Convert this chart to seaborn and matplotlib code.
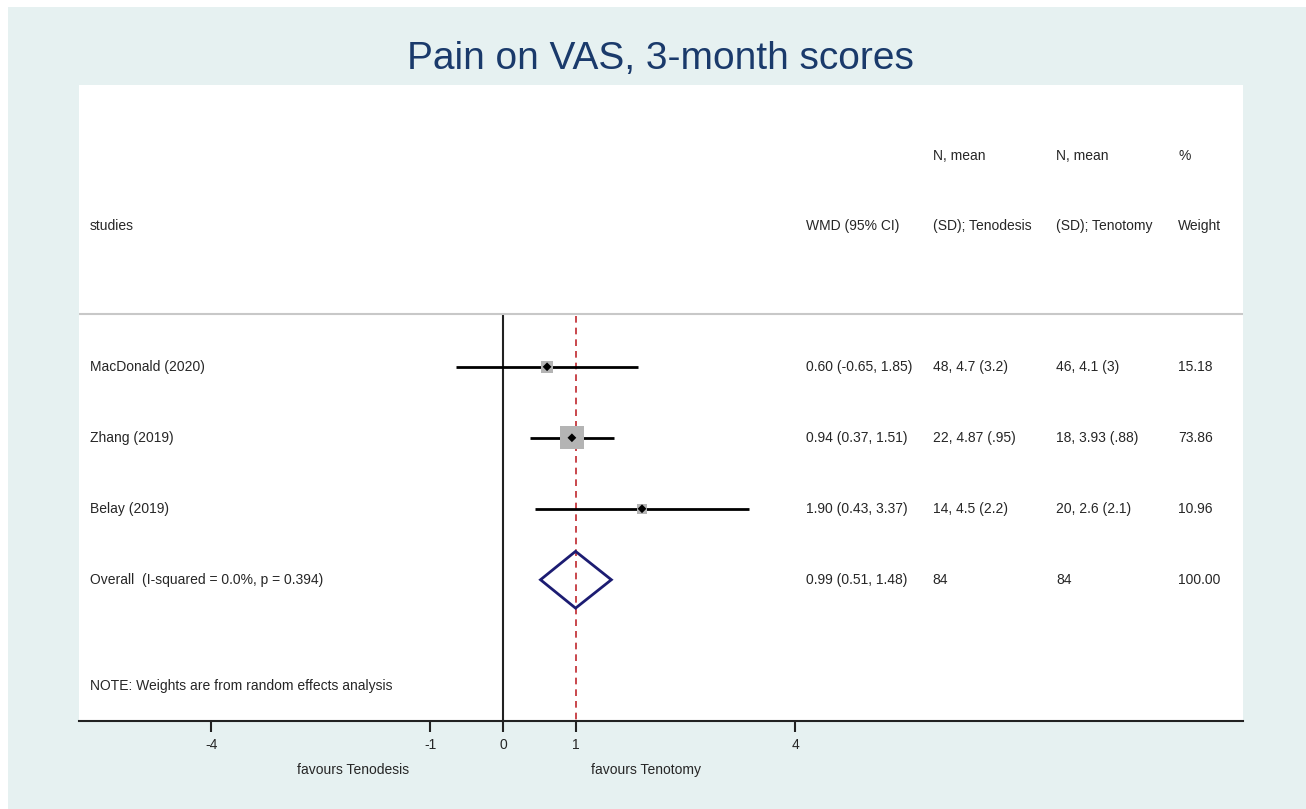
import numpy as np
import pandas as pd
import matplotlib
matplotlib.use("Agg")
import matplotlib.pyplot as plt
from matplotlib.patches import Rectangle, Polygon
import seaborn as sns

# data
studies = ["MacDonald (2020)", "Zhang (2019)", "Belay (2019)"]
wmd = [0.60, 0.94, 1.90]
ci_lo = [-0.65, 0.37, 0.43]
ci_hi = [1.85, 1.51, 3.37]
weight = [15.18, 73.86, 10.96]
wmd_txt = ["0.60 (-0.65, 1.85)", "0.94 (0.37, 1.51)", "1.90 (0.43, 3.37)"]
tenodesis_txt = ["48, 4.7 (3.2)", "22, 4.87 (.95)", "14, 4.5 (2.2)"]
tenotomy_txt = ["46, 4.1 (3)", "18, 3.93 (.88)", "20, 2.6 (2.1)"]

overall_label = "Overall  (I-squared = 0.0%, p = 0.394)"
overall_est, overall_lo, overall_hi = 0.99, 0.51, 1.48
overall_row = ["0.99 (0.51, 1.48)", "84", "84", "100.00"]

xticks = [-4, -1, 0, 1, 4]

df = pd.DataFrame({"study": studies, "wmd": wmd, "lo": ci_lo, "hi": ci_hi,
                   "weight": weight, "row": np.arange(1, len(studies) + 1)})

sns.set_theme(style="white")
plt.rcParams['font.family'] = ['Liberation Sans', 'DejaVu Sans']

bg = '#e6f1f1'
navy = '#1a3a6b'
fig = plt.figure(figsize=(13.06, 8.09), dpi=100, facecolor='white')
fig.patches.append(Rectangle((8 / 1306, 0), 1, 1 - 7 / 809, transform=fig.transFigure,
                             facecolor=bg, edgecolor='none', zorder=-10))
ax = fig.add_axes([79 / 1306, 1 - 721 / 809, (1243 - 79) / 1306, (721 - 85) / 809])
ax.set_facecolor('white')

ax.set_xlim(-5.81, 10.13)
ax.set_ylim(5.99, -2.97)

# reference lines
ax.plot([0, 0], [0.25, 5.99], color='#222222', lw=1.5, zorder=1)
ax.plot([overall_est, overall_est], [0.28, 5.99], color='#c0282d', lw=1.2,
        ls=(0, (4, 3)), zorder=1)
ax.plot([-5.81, 10.13], [0.25, 0.25], color='#c8c8c8', lw=1.5, zorder=1)

# CIs
ax.hlines(df["row"], df["lo"], df["hi"], color='black', lw=2, zorder=2)
# weight squares
sns.scatterplot(data=df, x="wmd", y="row", size="weight", sizes=(0, 282),
                size_norm=(-5, 73.86), marker='s', color='#b4b4b4', edgecolor='none',
                legend=False, ax=ax, zorder=3)
sns.scatterplot(data=df, x="wmd", y="row", marker='D', s=20, color='black',
                edgecolor='none', legend=False, ax=ax, zorder=4)

# overall diamond
orow = len(studies) + 1
ax.add_patch(Polygon([[overall_lo, orow], [overall_est, orow - 0.4],
                      [overall_hi, orow], [overall_est, orow + 0.4]],
                     closed=True, fill=False, edgecolor='#1c1c72', lw=2, zorder=4))

# text columns
fs = 10
cols = [-5.66, 4.14, 5.88, 7.57, 9.24]
ax.text(cols[0], -0.99, "studies", fontsize=fs, va='center')
ax.text(cols[1], -0.99, "WMD (95% CI)", fontsize=fs, va='center')
ax.text(cols[2], -1.97, "N, mean", fontsize=fs, va='center')
ax.text(cols[2], -0.99, "(SD); Tenodesis", fontsize=fs, va='center')
ax.text(cols[3], -1.97, "N, mean", fontsize=fs, va='center')
ax.text(cols[3], -0.99, "(SD); Tenotomy", fontsize=fs, va='center')
ax.text(cols[4], -1.97, "%", fontsize=fs, va='center')
ax.text(cols[4], -0.99, "Weight", fontsize=fs, va='center')

for i, r in df.iterrows():
    ax.text(cols[0], r["row"], r["study"], fontsize=fs, va='center')
    ax.text(cols[1], r["row"], wmd_txt[i], fontsize=fs, va='center')
    ax.text(cols[2], r["row"], tenodesis_txt[i], fontsize=fs, va='center')
    ax.text(cols[3], r["row"], tenotomy_txt[i], fontsize=fs, va='center')
    ax.text(cols[4], r["row"], f"{r['weight']:.2f}", fontsize=fs, va='center')

ax.text(cols[0], orow, overall_label, fontsize=fs, va='center')
for c, t in zip(cols[1:], overall_row):
    ax.text(c, orow, t, fontsize=fs, va='center')
ax.text(cols[0], 5.5, "NOTE: Weights are from random effects analysis", fontsize=fs, va='center')

# axes styling
for s in ['top', 'left', 'right']:
    ax.spines[s].set_visible(False)
ax.spines['bottom'].set_color('#222222')
ax.spines['bottom'].set_linewidth(1.5)
ax.set_yticks([])
ax.set_xticks(xticks)
ax.set_xticklabels([str(t) for t in xticks], fontsize=fs)
ax.tick_params(axis='x', bottom=True, length=8, width=1.5, color='#222222', pad=4)
ax.set_xlabel("")
ax.set_ylabel("")

fig.text((503.5 - 150) / 1306, 1 - 770 / 809, "favours Tenodesis", fontsize=fs,
         ha='center', va='center')
fig.text(646 / 1306, 1 - 770 / 809, "favours Tenotomy", fontsize=fs,
         ha='center', va='center')

fig.text(660 / 1306, 1 - 59 / 809, "Pain on VAS, 3-month scores", fontsize=28,
         color=navy, ha='center', va='center')

fig.savefig("out.png", dpi=100, facecolor=fig.get_facecolor())
